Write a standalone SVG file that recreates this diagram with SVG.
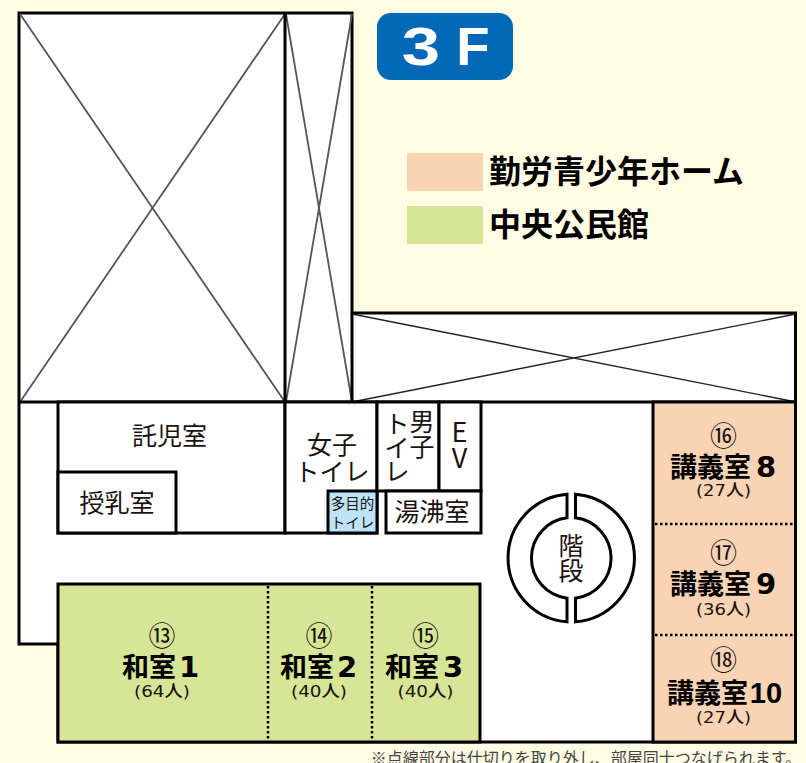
<svg xmlns="http://www.w3.org/2000/svg" width="806" height="763" viewBox="0 0 806 763">
<style>
text{font-family:"Noto Sans CJK JP","Noto Sans",sans-serif;fill:#1a1311;text-anchor:middle}
.w{stroke:#000;stroke-width:3;fill:#fff}
.b{stroke:#000;stroke-width:3;fill:none}
.x{stroke:#555;stroke-width:1.8;fill:none}
.x2{stroke:#222;stroke-width:1.4;fill:none}
.d{stroke:#000;stroke-width:2.5;stroke-dasharray:2.5 2.5;fill:none}
.r{font-size:25px}
.s{font-size:16.500px;font-weight:500;font-family:"DejaVu Sans","Noto Sans CJK JP",sans-serif}
.n{font-size:27px}
.l{font-size:27px;font-weight:700;fill:#000;text-anchor:start}
.ld{font-size:29px;font-weight:700;font-family:"DejaVu Sans",sans-serif;fill:#000}
.g{font-size:32px;font-weight:700;text-anchor:start;fill:#000}
.latin{font-family:"Liberation Sans",sans-serif;font-weight:700;fill:#fff}
</style>
<rect width="806" height="763" fill="#fffde3"/>
<g id="building">
<path class="w" d="M19 402V13H352V313H795.500V742H58V644H19Z"/>
<path class="x" d="M20 14L285 402M285 14L20 402M286 14L352 402M352 14L286 402"/>
<path class="x2" d="M352 314L796 402M796 314L352 402"/>
<path class="b" d="M285 13V402M352 313V402M19 402H796"/>
</g>
<g id="floor-title">
<rect x="377" y="13" width="136" height="67" rx="14" fill="#0068b7"/>
<text class="latin" x="421" y="65" font-size="53" transform="translate(421 0) scale(1.3 1) translate(-421 0)">3</text>
<text class="latin" x="473" y="65" font-size="53" transform="translate(473 0) scale(1.03 1) translate(-473 0)">F</text>
</g>
<g id="legend">
<rect x="407" y="153" width="76" height="38" fill="#f9d4b4"/>
<text class="g" x="489" y="183">勤労青少年ホーム</text>
<rect x="407" y="206" width="76" height="38" fill="#d7e596"/>
<text class="g" x="489" y="236">中央公民館</text>
</g>
<g id="room-nursery">
<rect class="w" x="58" y="402" width="227" height="131"/>
<text class="r" x="169.500" y="445">託児室</text>
</g>
<g id="room-nursing">
<rect class="w" x="58" y="472" width="118" height="61"/>
<text class="r" x="117" y="512">授乳室</text>
</g>
<g id="room-womens">
<rect class="w" x="285" y="402" width="92" height="131"/>
<text class="r" x="332" y="454">女子</text>
<text class="r" x="332" y="481">トイレ</text>
</g>
<g id="room-multi">
<rect x="328" y="491" width="49" height="42" fill="#bde3f9" stroke="#000" stroke-width="3"/>
<text x="352.500" y="509" font-size="14.500">多目的</text>
<text x="352.500" y="528" font-size="14.500">トイレ</text>
</g>
<g id="room-mens">
<rect class="w" x="377" y="402" width="62" height="89"/>
<text class="r" x="422" y="431">男</text>
<text class="r" x="422" y="456">子</text>
<text class="r" x="397" y="433">ト</text>
<text class="r" x="397" y="457">イ</text>
<text class="r" x="397" y="481">レ</text>
</g>
<g id="room-ev">
<rect class="w" x="439" y="402" width="42" height="89"/>
<text x="459.500" y="442" font-size="27">E</text>
<text x="459.500" y="468" font-size="27">V</text>
</g>
<g id="room-kitchen">
<rect class="w" x="386" y="491" width="95" height="42"/>
<text class="r" x="432" y="521">湯沸室</text>
</g>
<g id="stairs">
<path class="w" d="M567 494.200A64 64 0 0 0 567 621.800V598.200A40.500 40.500 0 0 1 567 517.800Z"/>
<path class="w" d="M575.500 494.200A64 64 0 0 1 575.500 621.800V598.200A40.500 40.500 0 0 0 575.500 517.800Z"/>
<text class="r" x="571" y="555">階</text>
<text class="r" x="571" y="580">段</text>
</g>
<g id="wa-rooms">
<rect x="58" y="584" width="422" height="158" fill="#d7e596" stroke="#000" stroke-width="3"/>
<text class="n" x="162" y="646">⑬</text>
<text class="l" x="122" y="677">和室</text>
<text class="ld" x="189" y="677">1</text>
<text class="s" x="162" y="697" textLength="56" lengthAdjust="spacingAndGlyphs">(64人)</text>
<text class="n" x="319" y="646">⑭</text>
<text class="l" x="280" y="677">和室</text>
<text class="ld" x="347" y="677">2</text>
<text class="s" x="319" y="697" textLength="56" lengthAdjust="spacingAndGlyphs">(40人)</text>
<text class="n" x="425.500" y="646">⑮</text>
<text class="l" x="385" y="677">和室</text>
<text class="ld" x="453" y="677">3</text>
<text class="s" x="425.500" y="697" textLength="56" lengthAdjust="spacingAndGlyphs">(40人)</text>
</g>
<g id="lecture-rooms">
<rect x="653" y="402" width="142.500" height="340" fill="#f9d4b4" stroke="#000" stroke-width="3"/>
<text class="n" x="723.500" y="446">⑯</text>
<text class="l" x="670" y="477">講義室</text>
<text class="ld" x="766" y="477">8</text>
<text class="s" x="723.500" y="496" textLength="55" lengthAdjust="spacingAndGlyphs">(27人)</text>
<text class="n" x="723.500" y="563">⑰</text>
<text class="l" x="670" y="594">講義室</text>
<text class="ld" x="766" y="594">9</text>
<text class="s" x="723.500" y="615" textLength="55" lengthAdjust="spacingAndGlyphs">(36人)</text>
<text class="n" x="723.500" y="670">⑱</text>
<text class="l" x="667" y="703">講義室</text>
<text class="ld" x="766" y="703" style="font-family:'Liberation Sans',sans-serif">10</text>
<text class="s" x="723.500" y="723" textLength="55" lengthAdjust="spacingAndGlyphs">(27人)</text>
</g>
<g id="partitions">
<path class="d" d="M268 586V741M372 586V741M655 524H794M655 635H794"/>
</g>
<text x="586" y="764" font-size="16" style="fill:#444">※点線部分は仕切りを取り外し、部屋同士つなげられます。</text>
</svg>
